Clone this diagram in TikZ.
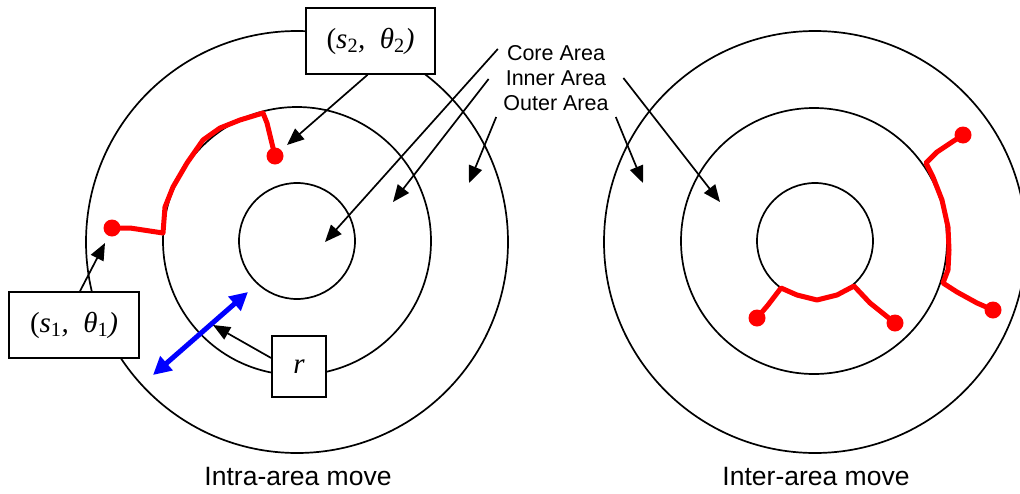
\documentclass[tikz,border=0pt]{standalone}
\usepackage{fontspec}
\setmainfont{Liberation Sans}
\newfontfamily\tnr{Liberation Serif}
\usetikzlibrary{arrows.meta}
\begin{document}
\begin{tikzpicture}[x=1pt,y=-1pt,
  ring/.style={draw=black,line width=1.7pt,circle,inner sep=0pt},
  lbox/.style={draw=black,fill=white,line width=1.7pt,inner sep=0pt,font=\tnr\fontsize{29}{32}\selectfont},
  area/.style={font=\fontsize{21.5}{25}\selectfont,inner sep=0pt,anchor=base},
  captxt/.style={font=\fontsize{26.5}{30}\selectfont,inner sep=0pt},
  ptr/.style={draw=black,line width=1.7pt,-{Triangle[length=17pt,width=14pt]}},
  mv/.style={draw=red,line width=5pt,line cap=round,line join=round},
  dot/.style={fill=red,circle,inner sep=0pt,minimum size=17pt},
  blu/.style={draw=blue,line width=5pt,{Triangle[length=18pt,width=18pt]}-{Triangle[length=18pt,width=18pt]}}
]
\useasboundingbox (0,0) rectangle (1020,493);
\clip (0,0) rectangle (1020,493);
\fill[white] (0,0) rectangle (1020,493);
% left rings
\node[ring,minimum size=422pt] (Lout) at (297,242) {};
\node[ring,minimum size=268pt] (Lin) at (297,241) {};
\node[ring,minimum size=116pt] (Lcore) at (297,241) {};
% right rings
\node[ring,minimum size=422pt] (Rout) at (815,242) {};
\node[ring,minimum size=266pt] (Rin) at (814,241) {};
\node[ring,minimum size=116pt] (Rcore) at (815,241) {};
% red path left
\draw[mv] (112,228) -- (130,228) -- (163,233) -- (165,207) -- (173,187) -- (187,163) -- (203,140) -- (220,128) -- (240,120) -- (263,113) -- (267,123) -- (275,156);
\node[dot] (p1) at (112,228) {};
\node[dot] (p2) at (275,156) {};
% red paths right
\draw[mv] (963,135) -- (952,142) -- (937,152) -- (926,163) -- (933,177) -- (942,200) -- (948,227) -- (949,250) -- (948,270) -- (943,283) -- (957,292) -- (977,303) -- (993,310);
\node[dot] (q1) at (963,135) {};
\node[dot] (q2) at (993,310) {};
\draw[mv] (757,318) -- (768,305) -- (781,288) -- (797,295) -- (817,300) -- (837,295) -- (854,286) -- (870,303) -- (895,323);
\node[dot] (q3) at (757,318) {};
\node[dot] (q4) at (895,323) {};
% blue arrow
\coordinate (b1) at (153,375);
\coordinate (b2) at (248,292);
\draw[blu] (b1) -- (b2);
% boxes
\node[lbox,minimum width=129pt,minimum height=66pt] (s2) at (370.5,41) {(\textit{s}\textsubscript{2}\textit{,\ \ θ}\textsubscript{2}\textit{)}};
\node[lbox,minimum width=130pt,minimum height=66pt] (s1) at (74,325) {(\textit{s}\textsubscript{1}\textit{,\ \ θ}\textsubscript{1}\textit{)}};
\node[lbox,minimum width=54pt,minimum height=61pt] (r) at (299,366.5) {\textit{r}};
% area labels
\node[area] (core) at (556,60) {Core Area};
\node[area] (inner) at (556,85) {Inner Area};
\node[area] (outer) at (556,110) {Outer Area};
% targets
\coordinate (tcore) at (325,242);
\coordinate (tinL) at (393,202);
\coordinate (toutL) at (469,183);
\coordinate (tinR) at (720,202);
\coordinate (toutR) at (643,183);
\coordinate (ts2) at (287,145);
\coordinate (ts1) at (105,243);
\coordinate (tr) at (213,325);
% pointer arrows
\draw[ptr] ([xshift=-3pt]s2.south) -- (ts2);
\draw[ptr] ([xshift=6pt]s1.north) -- (ts1);
\draw[ptr] ([yshift=8.5pt]r.west) -- (tr);
\draw[ptr] ([xshift=-9pt,yshift=11pt]core.base west) -- (tcore);
\draw[ptr] ([xshift=-17pt,yshift=6pt]inner.base west) -- (tinL);
\draw[ptr] ([xshift=-7pt,yshift=-7pt]outer.base west) -- (toutL);
\draw[ptr] ([xshift=17pt,yshift=7pt]inner.base east) -- (tinR);
\draw[ptr] ([xshift=7pt,yshift=-7pt]outer.base east) -- (toutR);
% captions
\node[captxt] (c1) at (298,477) {Intra-area move};
\node[captxt] (c2) at (816,477) {Inter-area move};
\end{tikzpicture}
\end{document}
